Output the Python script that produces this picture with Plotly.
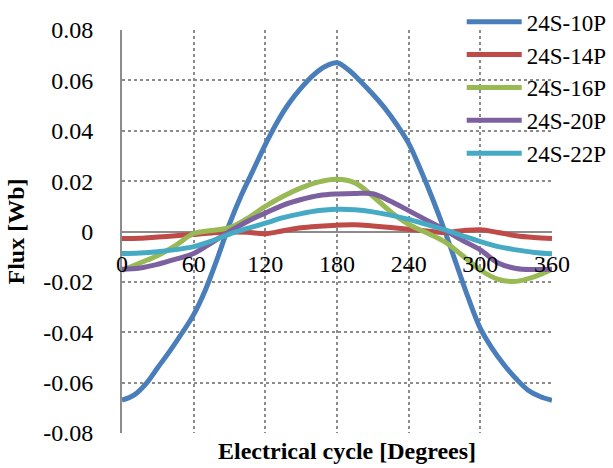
import plotly.graph_objects as go

# ---- data ----
deg = [0, 15, 30, 45, 60, 75, 90, 105, 120, 135, 150, 165, 180,
       195, 210, 225, 240, 255, 270, 285, 300, 315, 330, 345, 360]

deg_10p = [0, 10, 20, 30, 40, 50, 60, 70, 80, 90, 100, 110, 120, 130, 140, 150,
           160, 170, 180, 190, 200, 210, 220, 230, 240, 250, 260, 270, 280, 290,
           300, 310, 320, 330, 340, 350, 360]
flux_10p = [-0.067, -0.065, -0.0605, -0.054, -0.0475, -0.0405, -0.033, -0.023,
            -0.0105, 0.003, 0.0145, 0.0245, 0.0345, 0.0435, 0.051, 0.057, 0.062,
            0.0655, 0.067, 0.064, 0.0595, 0.0545, 0.049, 0.0425, 0.035, 0.0245,
            0.013, 0.0005, -0.013, -0.0265, -0.0385, -0.0465, -0.053, -0.0585,
            -0.063, -0.0655, -0.067]

flux_14p = [-0.0028, -0.0027, -0.0022, -0.0017, -0.0012, -0.0006, -0.0002,
            -0.0003, -0.0009, 0.0003, 0.0015, 0.0021, 0.0025, 0.0027, 0.0022,
            0.0016, 0.0009, 0.0002, -0.0004, 0.0003, 0.0007, -0.0004, -0.0017,
            -0.0024, -0.0028]

flux_16p = [-0.0155, -0.0125, -0.0095, -0.0055, -0.0008, 0.0004, 0.0015,
            0.0052, 0.0100, 0.0140, 0.0173, 0.0197, 0.0207, 0.0193, 0.0140,
            0.0078, 0.0028, -0.0005, -0.0040, -0.0095, -0.0153, -0.0190,
            -0.0198, -0.0180, -0.0150]

flux_20p = [-0.0150, -0.0145, -0.0130, -0.0110, -0.0087, -0.0045, 0.0000,
            0.0040, 0.0073, 0.0105, 0.0127, 0.0143, 0.0149, 0.0151, 0.0150,
            0.0120, 0.0083, 0.0045, 0.0007, -0.0035, -0.0073, -0.0125,
            -0.0147, -0.0151, -0.0150]

flux_22p = [-0.0087, -0.0085, -0.0080, -0.0072, -0.0060, -0.0038, -0.0010,
            0.0012, 0.0033, 0.0055, 0.0071, 0.0083, 0.0088, 0.0086, 0.0078,
            0.0065, 0.0048, 0.0028, 0.0007, -0.0017, -0.0040, -0.0060,
            -0.0073, -0.0083, -0.0088]

series_names = ["24S-10P", "24S-14P", "24S-16P", "24S-20P", "24S-22P"]
series_colors = ["#4A7EBB", "#BE4B48", "#98B954", "#7D60A0", "#46AAC5"]

x_ticks = [0, 60, 120, 180, 240, 300, 360]
x_ticklabels = ["0", "60", "120", "180", "240", "300", "360"]
y_ticks = [0.08, 0.06, 0.04, 0.02, 0, -0.02, -0.04, -0.06, -0.08]
y_ticklabels = ["0.08", "0.06", "0.04", "0.02", "0", "-0.02", "-0.04", "-0.06", "-0.08"]

FONT = "Liberation Serif"
GRID = "#8C8C8C"

fig = go.Figure()
xs = [deg_10p, deg, deg, deg, deg]
ys = [flux_10p, flux_14p, flux_16p, flux_20p, flux_22p]
for name, color, x, y in zip(series_names, series_colors, xs, ys):
    fig.add_trace(go.Scatter(x=x, y=y, name=name, mode="lines",
                             line=dict(color=color, width=5, shape="spline", smoothing=1.0)))

fig.update_layout(
    width=613, height=468,
    margin=dict(l=122, r=61, t=30, b=35, autoexpand=False),
    paper_bgcolor="white", plot_bgcolor="white",
    font=dict(family=FONT, size=24, color="black"),
    showlegend=True,
    legend=dict(x=0.79, xanchor="left", y=1.074, yanchor="top",
                bgcolor="rgba(0,0,0,0)", font=dict(size=23, family=FONT, color="black"),
                itemwidth=55, tracegroupgap=0),
    annotations=[dict(text="<b>Electrical cycle [Degrees]</b>", xref="paper", yref="paper",
                      x=0.524, y=-0.045, xanchor="center", yanchor="middle",
                      showarrow=False, font=dict(size=24, family=FONT, color="black"))],
)

fig.update_xaxes(
    range=[0, 360.02], tickvals=x_ticks, ticktext=x_ticklabels,
    anchor="free", position=0.5, showline=False, zeroline=False,
    showgrid=True, gridcolor=GRID, griddash="dot", gridwidth=1.5,
    ticks="", ticklabelstandoff=15, tickfont=dict(size=24, family=FONT, color="black"),
)
fig.update_yaxes(
    range=[-0.08001, 0.08001], tickvals=y_ticks, ticktext=y_ticklabels,
    showline=True, linecolor=GRID, linewidth=2,
    zeroline=True, zerolinecolor=GRID, zerolinewidth=2,
    showgrid=True, gridcolor=GRID, griddash="dot", gridwidth=1.5,
    ticks="", ticklabelstandoff=22, tickfont=dict(size=24, family=FONT, color="black"),
    title=dict(text="<b>Flux [Wb]</b>", font=dict(size=24, family=FONT, color="black"), standoff=12),
)

fig.write_html("out.html")
